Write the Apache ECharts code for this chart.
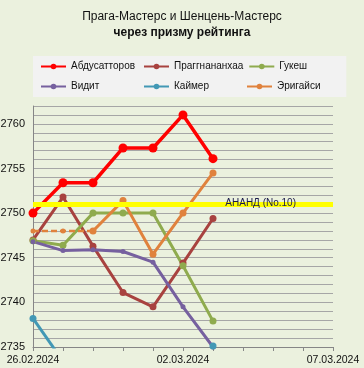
<!DOCTYPE html>
<html><head><meta charset="utf-8">
<script src="https://cdn.jsdelivr.net/npm/echarts@6/dist/echarts.min.js"></script>
<style>html,body{margin:0;padding:0;background:#EBF1DE}#c{width:364px;height:368px}</style>
</head><body><div id="c"></div>
<script>
const dates = ['26.02.2024','27.02.2024','28.02.2024','29.02.2024','01.03.2024','02.03.2024','03.03.2024','04.03.2024','05.03.2024','06.03.2024','07.03.2024'];
const abdusattorov = [2750.0, 2753.4, 2753.4, 2757.3, 2757.3, 2761.0, 2756.1];
const praggnanandhaa = [2747.0, 2751.8, 2746.3, 2741.1, 2739.5, 2744.4, 2749.4];
const gukesh = [2746.9, 2746.4, 2750.0, 2750.0, 2750.0, 2744.1, 2737.9];
const vidit = [2746.8, 2745.8, 2745.9, 2745.7, 2744.5, 2739.5, 2735.0];
const keymer = [2738.2, 2733.4, null, null, null, null, 2735.1];
const erigaisiDashed = [2748.0, 2748.0, 2748.0];
const erigaisi = [null, null, 2748.0, 2751.4, 2745.4, 2750.0, 2754.5];
const anandRating = 2750.94;
const anandLabel = 'АНАНД (No.10)';
const yMin = 2735, yMax = 2762;

const FONT = 'Liberation Sans';
function s(name, data, color, size, width, extra) {
  return Object.assign({
    name: name, type: 'line', data: data, color: color,
    symbol: 'circle', symbolSize: size, showAllSymbol: true,
    lineStyle: {width: width, color: color}, itemStyle: {color: color},
    z: 3
  }, extra || {});
}
const chart = echarts.init(document.getElementById('c'), null, {renderer: 'canvas'});
chart.setOption({
  backgroundColor: '#EBF1DE',
  animation: false,
  textStyle: {fontFamily: FONT},
  title: {
    text: 'Прага-Мастерс и Шенцень-Мастерс',
    subtext: 'через призму рейтинга',
    left: 'center', top: 6, itemGap: 4,
    textStyle: {fontFamily: FONT, fontSize: 12, fontWeight: 'normal', color: '#111'},
    subtextStyle: {fontFamily: FONT, fontSize: 12, fontWeight: 'bold', color: '#111'}
  },
  legend: {
    left: 33, top: 56, width: 320,
    padding: [3, 0, 3, 7],
    backgroundColor: '#F2F2F2',
    itemWidth: 25, itemHeight: 7, itemGap: 5,
    formatter: name => '{a|' + name + '}',
    textStyle: {fontFamily: FONT, fontSize: 10, color: '#111',
      rich: {a: {width: 67, height: 15, lineHeight: 15, fontFamily: FONT, fontSize: 10, color: '#111'}}},
    data: ['Абдусатторов','Праггнананхаа','Гукеш','Видит','Каймер','Эригайси']
  },
  grid: {left: 33, right: 31, top: 106, bottom: 21, containLabel: false, outerBoundsMode: 'none'},
  xAxis: {
    type: 'category', data: dates, boundaryGap: false,
    axisLine: {lineStyle: {color: '#868686', width: 1}},
    axisTick: {show: true, interval: 0, length: 4, lineStyle: {color: '#868686'}},
    axisLabel: {interval: 4, fontSize: 10.5, color: '#111', margin: 8, fontFamily: FONT},
    splitLine: {show: false}
  },
  yAxis: {
    type: 'value', min: yMin, max: yMax, interval: 1,
    axisLine: {show: true, lineStyle: {color: '#868686'}},
    axisTick: {show: false},
    axisLabel: {fontSize: 11, color: '#111', margin: 8, fontFamily: FONT,
      formatter: v => (v % 5 === 0 ? String(v) : '')},
    splitLine: {show: true, lineStyle: {color: '#A6A6A6', width: 1}}
  },
  series: [
    s('Абдусатторов', abdusattorov, '#FF0000', 9, 3.5),
    s('Праггнананхаа', praggnanandhaa, '#A8423F', 7, 3),
    s('Гукеш', gukesh, '#8FAB4E', 7, 3),
    s('Видит', vidit, '#76609F', 5, 3),
    s('Каймер', keymer, '#4298B5', 7, 3),
    s('Эригайси', erigaisi, '#E0823D', 7, 3),
    s('Эригайси ', erigaisiDashed, '#E0823D', 5, 2.5, {lineStyle: {width: 2.5, color: '#E0823D', type: [6, 3]}}),
    {
      name: 'АНАНД', type: 'line', data: [], z: 5,
      markLine: {
        silent: true, symbol: 'none', animation: false,
        lineStyle: {color: '#FFFF00', width: 5, type: 'solid'},
        label: {show: true, formatter: anandLabel, position: 'insideEndTop', distance: [37, -4],
          color: '#1A1A4A', fontSize: 10, fontFamily: FONT},
        data: [{yAxis: anandRating}]
      }
    }
  ]
});
</script></body></html>
